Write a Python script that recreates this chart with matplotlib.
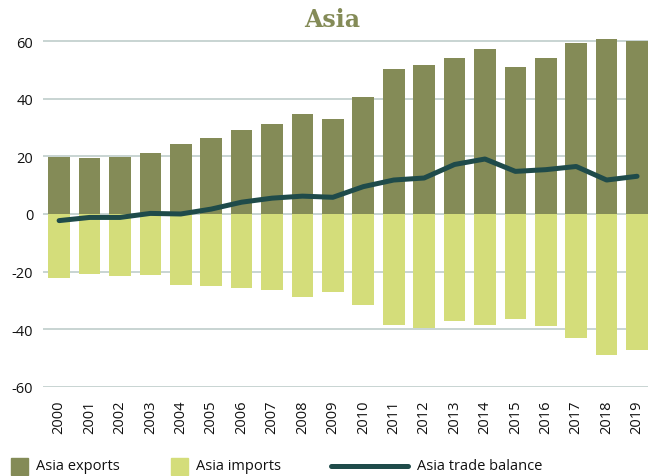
import numpy as np
import matplotlib.pyplot as plt
from matplotlib.patches import Rectangle
from matplotlib.lines import Line2D

# Asia trade, 2000-2019
years = [str(y) for y in range(2000, 2020)]
exports = [19.8, 19.5, 19.8, 21.2, 24.3, 26.4, 29.2, 31.3, 34.8, 33.0,
           40.7, 50.4, 51.8, 54.3, 57.4, 51.1, 54.3, 59.5, 60.9, 60.2]
imports = [-22.3, -20.9, -21.6, -21.2, -24.7, -25.0, -25.7, -26.4, -28.9, -27.1,
           -31.7, -38.6, -39.7, -37.2, -38.6, -36.5, -39.0, -43.1, -49.0, -47.3]
balance = [-2.3, -1.2, -1.2, 0.2, 0.0, 1.7, 4.1, 5.5, 6.2, 5.8,
           9.5, 11.8, 12.5, 17.2, 19.1, 14.8, 15.4, 16.5, 11.8, 13.1]
yticks = [-60, -40, -20, 0, 20, 40, 60]

c_exp = "#848b57"
c_imp = "#d4dd7a"
c_bal = "#1f4b4a"
c_grid = "#b9c9c6"

plt.rcParams["font.family"] = ["Open Sans", "DejaVu Sans"]

W, H = 649, 477
fig = plt.figure(figsize=(W / 100, H / 100), dpi=100)
ax = fig.add_axes([43 / W, 0.1872, 605 / W, 0.7604])

x = np.arange(len(years))
ax.bar(x, exports, width=0.71, color=c_exp, zorder=2)
ax.bar(x, imports, width=0.71, color=c_imp, zorder=2)
ax.plot(x, balance, color=c_bal, lw=3.6, solid_capstyle="round",
        solid_joinstyle="round", zorder=3)

ax.set_xlim(-0.53, 19.36)
ax.set_ylim(-60, 66)
ax.set_yticks(yticks)
ax.set_yticklabels([str(v) for v in yticks])
ax.set_xticks(x)
ax.set_xticklabels(years, rotation=90)
ax.tick_params(axis="both", length=0, labelsize=10.5, colors="#111111")
ax.tick_params(axis="y", pad=7)
ax.tick_params(axis="x", pad=9)
for s in ax.spines.values():
    s.set_visible(False)
ax.set_axisbelow(True)
ax.grid(axis="y", color=c_grid, lw=1.1)

fig.text(332 / W, 1 - 20 / H, "Asia", ha="center", va="center",
         family="DejaVu Serif", fontweight="bold", fontsize=17, color=c_exp)

# legend along the bottom, drawn in figure pixels
def px(xp, yp):
    return xp / W, 1 - yp / H

fig.add_artist(Rectangle(px(11, 476), 17 / W, 17 / H, color=c_exp,
                         transform=fig.transFigure))
fig.text(*px(36, 467), "Asia exports", va="center", fontsize=10.5, color="#111111")
fig.add_artist(Rectangle(px(171, 476), 17 / W, 17 / H, color=c_imp,
                         transform=fig.transFigure))
fig.text(*px(196, 467), "Asia imports", va="center", fontsize=10.5, color="#111111")
fig.add_artist(Line2D([331 / W, 408 / W], [1 - 467 / H, 1 - 467 / H], color=c_bal,
                      lw=3.6, solid_capstyle="round", transform=fig.transFigure))
fig.text(*px(417, 467), "Asia trade balance", va="center", fontsize=10.5, color="#111111")

fig.savefig("out.png", dpi=100)
